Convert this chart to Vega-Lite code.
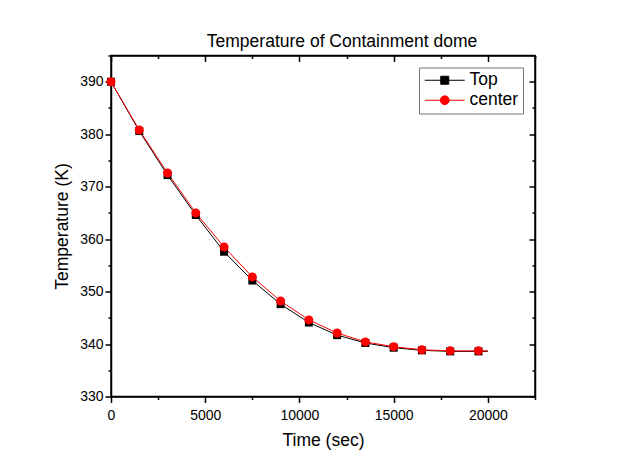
{
  "$schema": "https://vega.github.io/schema/vega-lite/v6.json",
  "width": 424,
  "height": 341,
  "autosize": "none",
  "padding": {"left": 111, "top": 55.5, "right": 87, "bottom": 79.5},
  "background": "white",
  "config": {
    "font": "Liberation Sans",
    "view": {"stroke": "black", "strokeWidth": 1.5},
    "axis": {"grid": false, "domainColor": "black", "domainWidth": 1.5, "tickColor": "black", "tickWidth": 1.5, "labelColor": "black", "titleColor": "black", "labelFont": "Liberation Sans", "titleFont": "Liberation Sans", "labelFontSize": 14, "titleFontSize": 17.5, "titleFontWeight": "normal"}
  },
  "title": {"text": "Temperature of Containment dome", "fontSize": 17.5, "fontWeight": "normal", "font": "Liberation Sans", "color": "black", "anchor": "middle", "dx": 19, "offset": 4},
  "data": {"values": [
    {"t": 0, "temp": 390.0, "series": "Top"},
    {"t": 1500, "temp": 380.6, "series": "Top"},
    {"t": 3000, "temp": 372.2, "series": "Top"},
    {"t": 4500, "temp": 364.6, "series": "Top"},
    {"t": 6000, "temp": 357.6, "series": "Top"},
    {"t": 7500, "temp": 352.1, "series": "Top"},
    {"t": 9000, "temp": 347.6, "series": "Top"},
    {"t": 10500, "temp": 344.1, "series": "Top"},
    {"t": 12000, "temp": 341.7, "series": "Top"},
    {"t": 13500, "temp": 340.2, "series": "Top"},
    {"t": 15000, "temp": 339.3, "series": "Top"},
    {"t": 16500, "temp": 338.8, "series": "Top"},
    {"t": 18000, "temp": 338.6, "series": "Top"},
    {"t": 19500, "temp": 338.6, "series": "Top"},
    {"t": 20000, "temp": 338.6, "series": "Top"},
    {"t": 0, "temp": 390.0, "series": "center"},
    {"t": 1500, "temp": 380.8, "series": "center"},
    {"t": 3000, "temp": 372.6, "series": "center"},
    {"t": 4500, "temp": 365.0, "series": "center"},
    {"t": 6000, "temp": 358.5, "series": "center"},
    {"t": 7500, "temp": 352.8, "series": "center"},
    {"t": 9000, "temp": 348.2, "series": "center"},
    {"t": 10500, "temp": 344.6, "series": "center"},
    {"t": 12000, "temp": 342.1, "series": "center"},
    {"t": 13500, "temp": 340.4, "series": "center"},
    {"t": 15000, "temp": 339.5, "series": "center"},
    {"t": 16500, "temp": 338.9, "series": "center"},
    {"t": 18000, "temp": 338.7, "series": "center"},
    {"t": 19500, "temp": 338.7, "series": "center"},
    {"t": 20000, "temp": 338.7, "series": "center"}
  ]},
  "resolve": {"axis": {"x": "independent", "y": "independent"}},
  "layer": [
    {
      "mark": {"type": "line", "strokeWidth": 1, "clip": true},
      "encoding": {
        "x": {"field": "t", "type": "quantitative", "scale": {"domain": [0, 22500], "nice": false, "zero": false},
          "axis": {"orient": "bottom", "title": "Time (sec)", "values": [0, 2500, 5000, 7500, 10000, 12500, 15000, 17500, 20000, 22500], "format": "d", "labelExpr": "datum.value % 5000 === 0 ? datum.label : ''", "labelFlush": false, "labelPadding": 5.5, "titlePadding": 9,
            "tickSize": {"condition": {"test": "datum.value % 5000 === 0", "value": 6}, "value": 3}}},
        "y": {"field": "temp", "type": "quantitative", "scale": {"domain": [330, 395], "nice": false, "zero": false},
          "axis": {"orient": "left", "title": "Temperature (K)", "values": [330, 335, 340, 345, 350, 355, 360, 365, 370, 375, 380, 385, 390, 395], "labelExpr": "datum.value % 10 === 0 ? datum.label : ''", "labelFlush": false, "labelPadding": 2, "titlePadding": 8,
            "tickSize": {"condition": {"test": "datum.value % 10 === 0", "value": 6}, "value": 3}}},
        "color": {"field": "series", "type": "nominal", "scale": {"domain": ["Top", "center"], "range": ["black", "red"]},
          "legend": {"title": null, "orient": "none", "legendX": 308, "legendY": 12, "strokeColor": "#777777", "fillColor": "white", "padding": 4, "labelFont": "Liberation Sans", "labelFontSize": 17.5, "labelColor": "black", "symbolSize": 64, "symbolOffset": 13, "labelOffset": 16, "rowPadding": 1,
            "encode": {"symbols": {"update": {
              "shape": {"signal": "datum.value === 'Top' ? 'M-5,0H5M-1,-1H1V1H-1Z' : 'M-5,0H5M1.1,0A1.1,1.1,0,1,1,-1.1,0A1.1,1.1,0,1,1,1.1,0Z'"},
              "fill": {"signal": "datum.value === 'Top' ? 'black' : 'red'"},
              "stroke": {"signal": "datum.value === 'Top' ? 'black' : 'red'"},
              "strokeWidth": {"value": 1},
              "opacity": {"value": 1}}}}}}
      }
    },
    {
      "transform": [{"filter": "datum.t <= 19500"}],
      "mark": {"type": "point", "filled": true, "opacity": 1},
      "encoding": {
        "x": {"field": "t", "type": "quantitative",
          "axis": {"orient": "top", "title": null, "values": [0, 2500, 5000, 7500, 10000, 12500, 15000, 17500, 20000, 22500], "labels": false,
            "tickSize": {"condition": {"test": "datum.value % 5000 === 0", "value": -6}, "value": -3}}},
        "y": {"field": "temp", "type": "quantitative",
          "axis": {"orient": "right", "title": null, "values": [330, 335, 340, 345, 350, 355, 360, 365, 370, 375, 380, 385, 390, 395], "labels": false,
            "tickSize": {"condition": {"test": "datum.value % 10 === 0", "value": -6}, "value": -3}}},
        "color": {"field": "series", "type": "nominal"},
        "shape": {"condition": {"test": "datum.series === 'Top'", "value": "square"}, "value": "circle"},
        "size": {"condition": {"test": "datum.series === 'Top'", "value": 64}, "value": 81}
      }
    }
  ]
}
